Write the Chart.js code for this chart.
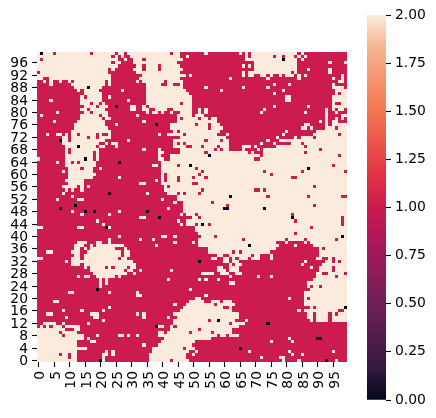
<!DOCTYPE html>
<html><head><meta charset="utf-8">
<style>html,body{margin:0;padding:0;background:#fff}canvas{position:absolute;left:0;top:0}</style>
<script src="https://cdn.jsdelivr.net/npm/chart.js@4"></script></head>
<body><canvas id="h" width="436" height="418"></canvas><canvas id="b" width="86" height="418" style="left:350px"></canvas>
<script>
// cream (value 2) cells per row, top row first; every other cell is value 1 unless listed in the zero arrays
const creamRows=[
"0 2-4 6-16 18-24 26-27 29-42 44-45 54 65 67 69-83 85",
"0-23 25 27 30-45 48 67 69-75 77-78 80-82 84 86",
"0 2-25 28 31-33 35-46 67-78 80-83 85",
"0-23 25-26 31-44 70-83 94 99",
"0-25 32-33 35-38 40-45 66 68 70-83",
"0-22 24 31-33 35-38 40-46 70-83 87 94",
"1-22 32-45 66 68-81 83 94",
"0-23 34-47 49 66 68-69 72-73 75 78 80-82 84 86 98",
"0-1 4-23 33-45 62 74 84 95 98",
"2 4 7 10 12-21 23 32 34-40 42-46 97-98",
"4 11-21 23 35-39 42-43 46 76 81 95",
"12-20 35-46 54 66 74 95-98",
"13 15-19 27 35-47 59 79 96-99",
"15-20 35-48 76 96 98-99",
"14 16-20 23 35-49 80-81 95-99",
"4 14-20 29 35-49 80-81 95-99",
"14-16 18-19 21 35-45 47-49 95 98-99",
"15-18 20-22 30-31 34 36-49 76 87 95-99",
"14-15 17-21 30-31 34-35 38-41 44-49 52 54 73 93 95 97-98",
"6 15-16 18-22 35 37-38 40 43 46-49 52 54 72 86 93 96",
"1 14-19 21-22 32 45-49 51-53 93 98-99",
"14-20 22-23 45 47-51 53-54 56-57 93 96 98",
"5 13-21 34 45-57 91 93 95-96",
"12-21 25 43-50 52-54 56-58 86-87 93 95-99",
"12-22 43-54 56-59 85-86 88 93-95 97-99",
"11-23 44 46-58 80 90-99",
"3 6-7 9 11-12 14-18 20 23 39 42-46 48-57 61 79 89-96 98-99",
"8-9 11-15 17-18 20-23 46-60 77 83 85-88 90-99",
"8-9 11-21 29 44-53 55-58 60-61 74 78-99",
"8-19 22 24-25 44 46 48-61 72 76 82-84 86-99",
"9-12 14-18 20-21 25 44-47 50-52 54-57 59-61 66-68 70 77-85 87-99",
"9 11-19 34 39 46-56 58 60-61 66 71 73-90 92-99",
"9 11-17 19 39-40 46-53 55-67 69 73-85 87-99",
"9-17 19 39 43-54 56-71 73-96 98-99",
"0 9-14 16-17 19 39-40 43-69 72-99",
"6 9-10 12 14-18 40-99",
"9-18 37-38 40-44 46-48 50-94 96-99",
"10-13 15-17 20 40-50 52-86 88-99",
"8 10-17 40-52 54-72 74-84 86-98",
"10-18 40 42-51 53-74 76-99",
"10-17 26 40 42-44 46-49 51-53 55-81 84-99",
"9-14 38 40 42-44 46-99",
"10-14 33-34 40-49 52-99",
"8-12 14 16 41 43-88 90-99",
"9 11 14 41-52 54-69 72 74-99",
"8 35 42-44 46 48-51 53-99",
"11 45-73 75-86 88-97",
"6 13-14 40 45-99",
"44 47-55 57-99",
"47-60 62-88 90-99",
"42 47-59 62-72 74-99",
"11 26 47-99",
"14 23 46 48-50 52-81 83-99",
"33-34 50-51 53-81 83-97 99",
"19 45 48-82 84-97 99",
"21 46 48-50 52 54 56-97 99",
"0-1 13-14 23 51-87 89-99",
"51-99",
"52-82 84-99",
"26 40-41 44 53-56 58-97 99",
"23 33 37 52-65 67-79 81-85 87-95 97-99",
"13-15 19-20 23 44 50 52-76 80 86 88-99",
"12-14 17 19-27 38 52-77 83 89-99",
"12-13 15 17-24 28 55-76 91 93-99",
"3-4 11-13 16-26 28-29 55-62 64 66-74 91-99",
"12-13 15-26 28-29 58-59 62-68 70-71 75 91-99",
"0-1 11-13 15-25 27-28 56-57 60-61 63 65-67 69-71 75 90-91 94 96-99",
"9 11-30 60-61 63-64 86 93-94 96 98-99",
"11-13 15-31 62 64-65 85 92-99",
"15 17-21 23 25-28 30-31 58-59 62-64 88 91-94 96-99",
"17-27 29-30 33 43 58-60 62-64 91-94 96-99",
"18-28 31 53-56 59-61 64-65 90-91 94-98",
"13 15-16 19-24 26 62 71 75 90-95 97-99",
"20 22 42 52 54 58 89-99",
"20 22 62-63 87-99",
"20 87 89-90 92-99",
"49 88-99",
"10-11 23 32 86-99",
"32-33 54 86-99",
"51-52 81 86 88-99",
"5-6 49-53 56-58 60-62 86-99",
"44 48-56 58-63 86-99",
"23 47-59 62 88 90-98",
"8 14 21 46-62 84 86-96 99",
"3-4 17-19 32 34 44-64 87-88 90-93 95 97-99",
"9 18-19 34 42 45-64 87-88 90-93 95-99",
"21 44-54 56-57 59-63 67 88 90-93 95-99",
"2-5 8 16 44-61 63-66",
"1 3 5-7 9-13 39-40 43 45-64",
"0-8 12-13 43-51 53-62",
"0-6 8-12 39-40 42-48 50-55 57-62",
"0-7 9-14 19 26-27 29 32 39-57 59-60 62-64",
"0-14 16 41-55 81",
"0-12 17-18 40-50 75 82",
"0-12 34 39-49",
"0-15 37-46 48-50",
"0-12 22 24 37-48 51 68 81 95",
"0-6 8-9 11-12 21-22 24 36-47 50 82 85",
"0-9 11-12 21 36-47 72 78-79",
"0-12 21 36-42 44-48 79 84 96"
];
const zeroCols=[1,79,7,13,16,25,38,55,15,26,23,12,7,15,18,22,49,62,60,61,35,39,53,68,87,73,82,98,19,20,52,38,58,65,99,74,90,91,93];
const zeroRows=[0,2,28,30,11,17,23,33,34,35,45,49,50,51,51,56,36,46,50,50,51,53,55,62,37,50,53,59,76,99,67,88,86,95,82,87,92,92,99];
const xTickLabels=[0,5,10,15,20,25,30,35,40,45,50,55,60,65,70,75,80,85,90,95];
const yTickLabels=[0,4,8,12,16,20,24,28,32,36,40,44,48,52,56,60,64,68,72,76,80,84,88,92,96];
const barTicks=[0,0.25,0.5,0.75,1,1.25,1.5,1.75,2];
const rocketStops=[[0,'#03051a'],[0.083,'#35193e'],[0.25,'#701f57'],[0.417,'#ad1759'],[0.5,'#cb1b4f'],[0.583,'#e13342'],[0.75,'#f37651'],[0.917,'#f6b48f'],[1,'#faebdd']];
const COLORS={0:'#03051a',1:'#cb1b4f',2:'#faebdd'};
const FONT={family:'"DejaVu Sans"',size:13.9};

const grid=creamRows.map(s=>{const r=new Array(100).fill(1);
  s.split(' ').forEach(t=>{const[a,b]=t.split('-').map(Number);for(let c=a;c<=(b===undefined?a:b);c++)r[c]=2;});return r;});
zeroCols.forEach((c,i)=>{grid[zeroRows[i]][c]=0;});
const pts={0:[],1:[],2:[]};
grid.forEach((r,ri)=>r.forEach((v,c)=>pts[v].push({x:c+0.5,y:99-ri+0.5})));

const snap=v=>Math.round(Math.round(v*1000)/1000);
const crisp={id:'crisp',beforeDatasetDraw(chart,args){
  const ctx=chart.ctx,xs=chart.scales.x,ys=chart.scales.y;
  const cw=xs.getPixelForValue(1)-xs.getPixelForValue(0),ch=ys.getPixelForValue(0)-ys.getPixelForValue(1);
  ctx.save();ctx.fillStyle=chart.data.datasets[args.index].backgroundColor;
  args.meta.data.forEach(p=>{
    const x0=snap(p.x-cw/2),x1=snap(p.x+cw/2),y0=snap(p.y-ch/2),y1=snap(p.y+ch/2);
    ctx.fillRect(x0,y0,x1-x0,y1-y0);});
  ctx.restore();return false;}};

const tickGrid={drawOnChartArea:false,drawTicks:true,tickLength:5,tickWidth:1.1,tickColor:'#000'};
new Chart(document.getElementById('h'),{type:'scatter',plugins:[crisp],
 data:{datasets:[1,2,0].map(v=>({data:pts[v],backgroundColor:COLORS[v],pointRadius:1.5,pointStyle:'rect'}))},
 options:{responsive:false,animation:false,events:[],
  layout:{padding:{top:52,right:89,left:0,bottom:0}},
  plugins:{legend:{display:false},tooltip:{enabled:false}},
  scales:{
   x:{type:'linear',min:0,max:100,border:{display:false},grid:tickGrid,
      afterBuildTicks:s=>{s.ticks=xTickLabels.map(v=>({value:v+0.5}));},
      afterFit:s=>{s.height=56;},
      ticks:{autoSkip:false,minRotation:90,maxRotation:90,padding:4,labelOffset:2,color:'#000',font:FONT,callback:v=>String(v-0.5)}},
   y:{type:'linear',min:0,max:100,border:{display:false},grid:tickGrid,
      afterBuildTicks:s=>{s.ticks=yTickLabels.map(v=>({value:v+0.5}));},
      afterFit:s=>{s.width=37;},
      ticks:{autoSkip:false,padding:4,labelOffset:1,color:'#000',font:FONT,callback:v=>String(v-0.5)}}
  }}});

new Chart(document.getElementById('b'),{type:'bar',
 data:{labels:['value'],datasets:[{data:[[0,2]],barPercentage:1,categoryPercentage:1,borderWidth:0,
   backgroundColor:c=>{const a=c.chart.chartArea;if(!a)return '#cb1b4f';
     const g=c.chart.ctx.createLinearGradient(0,a.bottom,0,a.top);rocketStops.forEach(s=>g.addColorStop(s[0],s[1]));return g;}}]},
 options:{responsive:false,animation:false,events:[],
  layout:{padding:{top:15,bottom:18,left:17,right:0}},
  plugins:{legend:{display:false},tooltip:{enabled:false}},
  scales:{
   x:{display:false},
   y:{position:'right',min:0,max:2,border:{display:false},grid:tickGrid,
      afterBuildTicks:s=>{s.ticks=barTicks.map(v=>({value:v}));},
      afterFit:s=>{s.width=50;},
      ticks:{padding:4,color:'#000',font:FONT,callback:v=>v.toFixed(2)}}
  }}});
</script></body></html>
